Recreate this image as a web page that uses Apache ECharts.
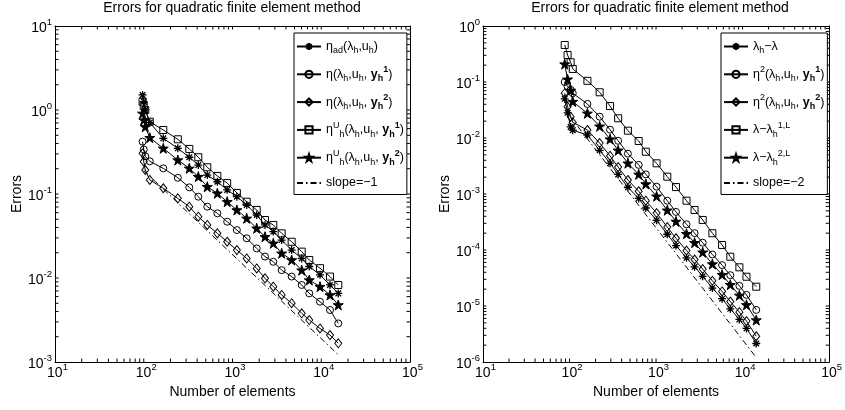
<!DOCTYPE html>
<html><head><meta charset="utf-8">
<script src="https://cdn.jsdelivr.net/npm/echarts@6/dist/echarts.min.js"></script>
<style>html,body{margin:0;padding:0;background:#fff}#c{width:845px;height:410px}</style>
</head><body><div id="c"></div>
<script>
// ---------- data ----------
const titleText = 'Errors for quadratic finite element method';
const xName = 'Number of elements';
const yName = 'Errors';

const xTickLabels = [10, 100, 1000, 10000, 100000];
const yTickLabelsLeft = [0.001, 0.01, 0.1, 1, 10];
const yTickLabelsRight = [0.000001, 0.00001, 0.0001, 0.001, 0.01, 0.1, 1];

// left panel
const xLeft = [97, 100, 104, 117, 166, 242, 326, 412, 520, 675, 871, 1120, 1445, 1875, 2323, 2883, 3580, 4640, 6025, 7330, 9680, 12550, 15550];
const leftEtaAd = [1.51, 1.26, 1.0, 0.708, 0.46, 0.35, 0.274, 0.221, 0.168, 0.14, 0.112, 0.0929, 0.074, 0.0562, 0.0428, 0.0357, 0.0283, 0.0215, 0.0171, 0.0137, 0.0109, 0.00826, 0.00656];
const leftEta1 = [0.42, 0.339, 0.282, 0.245, 0.202, 0.156, 0.12, 0.0929, 0.0706, 0.0589, 0.0468, 0.0372, 0.0297, 0.0225, 0.018, 0.0156, 0.0124, 0.0104, 0.00826, 0.00656, 0.00522, 0.00416, 0.00288];
const leftEta2 = [0.305, 0.243, 0.193, 0.147, 0.117, 0.0887, 0.0706, 0.0537, 0.0428, 0.034, 0.027, 0.0215, 0.0171, 0.013, 0.00991, 0.00789, 0.00628, 0.00501, 0.0038, 0.00316, 0.00251, 0.00209, 0.00167];
const leftEtaU1 = [1.256, 1.117, 1.0, 0.726, 0.578, 0.448, 0.344, 0.274, 0.208, 0.164, 0.135, 0.103, 0.0809, 0.0646, 0.049, 0.0428, 0.034, 0.027, 0.0206, 0.0164, 0.0131, 0.0104, 0.00826];
const leftEtaU2 = [0.912, 0.759, 0.631, 0.468, 0.35, 0.254, 0.202, 0.161, 0.122, 0.102, 0.0809, 0.0646, 0.0513, 0.0391, 0.031, 0.0259, 0.0197, 0.0164, 0.0124, 0.00946, 0.00789, 0.00628, 0.00478];
const leftSlopeX = [100, 15550];
const leftSlopeY = [0.19, 0.00122];

// right panel
const xRight = [88, 95, 103, 109, 161, 223, 294, 365, 473, 630, 762, 1015, 1349, 1700, 2250, 2790, 3460, 4480, 5800, 7220, 9190, 11100, 14400];
const rightLam = [0.0501, 0.0282, 0.0158, 0.0138, 0.0113, 0.00603, 0.00355, 0.00224, 0.00132, 0.000832, 0.000562, 0.000339, 0.000191, 0.00012, 7.24e-5, 5.01e-5, 3.39e-5, 2.09e-5, 1.35e-5, 8.91e-6, 5.75e-6, 3.98e-6, 2.14e-6];
const rightEta1 = [0.1, 0.0832, 0.0724, 0.0631, 0.0405, 0.024, 0.0141, 0.00891, 0.00525, 0.00331, 0.00224, 0.00135, 0.000759, 0.000479, 0.000288, 0.0002, 0.000135, 8.32e-5, 5.37e-5, 3.55e-5, 2.29e-5, 1.58e-5, 8.51e-6];
const rightEta2 = [0.0631, 0.0363, 0.024, 0.019, 0.0139, 0.00813, 0.00479, 0.00302, 0.00178, 0.00112, 0.000759, 0.000457, 0.000257, 0.000162, 9.77e-5, 6.76e-5, 4.57e-5, 2.82e-5, 1.82e-5, 1.2e-5, 7.76e-6, 5.37e-6, 2.88e-6];
const rightL1 = [0.458, 0.303, 0.225, 0.171, 0.105, 0.0655, 0.0372, 0.0225, 0.0135, 0.00883, 0.00569, 0.00353, 0.00204, 0.00133, 0.000759, 0.000518, 0.000344, 0.000199, 0.000123, 7.59e-5, 4.91e-5, 3.33e-5, 2.21e-5];
const rightL2 = [0.209, 0.112, 0.0708, 0.0447, 0.0276, 0.0162, 0.00955, 0.00603, 0.00355, 0.00224, 0.00151, 0.000912, 0.000513, 0.000324, 0.000195, 0.000135, 9.12e-5, 5.62e-5, 3.63e-5, 2.4e-5, 1.55e-5, 1.05e-5, 5.62e-6];
const rightSlopeX = [100, 14400];
const rightSlopeY = [0.025, 1.2e-6];

// ---------- chart ----------
const F = '"Liberation Sans", Arial, Helvetica, sans-serif';
const pairs = (xs, ys) => xs.map((x, i) => [x, ys[i]]);
function allTicks(majors) {
  const out = [];
  for (let i = 0; i < majors.length; i++) {
    out.push(majors[i]);
    if (i < majors.length - 1) for (let k = 2; k <= 9; k++) out.push(+(majors[i] * k).toPrecision(6));
  }
  return out;
}
const xTicksAll = allTicks(xTickLabels);
const yTicksAllL = allTicks(yTickLabelsLeft);
const yTicksAllR = allTicks(yTickLabelsRight);

const tickRich = {
  b: {fontSize: 14, fontFamily: F, color: '#000', lineHeight: 18, verticalAlign: 'bottom'},
  s: {fontSize: 9.5, fontFamily: F, color: '#000', lineHeight: 8, verticalAlign: 'top'}
};
const tickFmt = v => '{b|10}{s|' + Math.round(Math.log10(v)) + '}';

function xAx(grid, pos, labels, min, max) {
  return {
    type: 'log', logBase: 10, gridIndex: grid, position: pos, min: min, max: max,
    axisLine: {show: true, onZero: false, lineStyle: {color: '#000', width: 1}},
    axisTick: {show: false},
    axisLabel: {show: labels, customValues: xTickLabels, formatter: tickFmt, rich: tickRich, margin: 0, padding: [0, 0, 0, 5]},
    splitLine: {show: false},
    name: labels ? xName : '', nameLocation: 'middle', nameGap: 21,
    nameTextStyle: {fontSize: 14, fontFamily: F, color: '#000'}
  };
}
function yAx(grid, pos, labels, min, max, labelVals) {
  return {
    type: 'log', logBase: 10, gridIndex: grid, position: pos, min: min, max: max,
    axisLine: {show: true, onZero: false, lineStyle: {color: '#000', width: 1}},
    axisTick: {show: false},
    axisLabel: {show: labels, customValues: labelVals, formatter: tickFmt, rich: tickRich, margin: 3},
    splitLine: {show: false},
    name: labels ? yName : '', nameLocation: 'middle', nameGap: 31,
    nameTextStyle: {fontSize: 14, fontFamily: F, color: '#000'}
  };
}

// tick marks on all four sides (short segments, placed by the axes' log scales)
const TL = 3.5; // px
const EPS = 1.000001;
let tickId = 0;
function tickLine(ai, segs) {
  const data = [];
  segs.forEach(s => { data.push(s[0], s[1], [null, null]); });
  return {
    type: 'line', name: 'tick' + (tickId++), xAxisIndex: ai, yAxisIndex: ai, data: data, connectNulls: false,
    symbol: 'none', showSymbol: false, lineStyle: {color: '#000', width: 1},
    animation: false, z: 2, clip: false, legendHoverLink: false
  };
}
function gridTicks(ai, xTicks, yTicks, xMin, xMax, yMin, yMax, pxW, pxH) {
  const fx = Math.pow(xMax / xMin, TL / pxW);
  const fy = Math.pow(yMax / yMin, TL / pxH);
  const inX = xTicks.filter((v, i) => i > 0 && i < xTicks.length - 1);
  const inY = yTicks.filter((v, i) => i > 0 && i < yTicks.length - 1);
  return [
    tickLine(ai, inX.map(v => [[v, yMin * EPS], [v, yMin * fy]])),
    tickLine(ai, inX.map(v => [[v, yMax / EPS], [v, yMax / fy]])),
    tickLine(ai, inY.map(v => [[xMin * EPS, v], [xMin * fx, v]])),
    tickLine(ai, inY.map(v => [[xMax / EPS, v], [xMax / fx, v]]))
  ];
}

const SYM = {
  ast: 'path://M10,0L10,20M0,10L20,10M3,3L17,17M3,17L17,3',
  star: 'path://M10,0L12.35,7.24L19.98,7.24L13.82,11.71L16.18,18.96L10,14.49L3.82,18.96L6.18,11.71L0.02,7.24L7.65,7.24Z'
};
const CLEAR = 'rgba(0,0,0,0)';
function ser(name, xs, ys, ai, sym, size, fill, bw) {
  return {
    type: 'line', name: name, xAxisIndex: ai, yAxisIndex: ai, data: pairs(xs, ys),
    symbol: sym, symbolSize: size, showSymbol: true, showAllSymbol: true,
    lineStyle: {color: '#000', width: 1},
    itemStyle: {color: fill, borderColor: '#000', borderWidth: bw || 1},
    emphasis: {disabled: true}, animation: false, z: 3
  };
}
function slope(name, xs, ys, ai) {
  return {
    type: 'line', name: name, xAxisIndex: ai, yAxisIndex: ai, data: pairs(xs, ys),
    symbol: 'none', lineStyle: {color: '#000', width: 1, type: [6, 3, 1.5, 3]},
    itemStyle: {color: CLEAR, borderColor: CLEAR, borderWidth: 0},
    emphasis: {disabled: true}, animation: false, z: 2
  };
}

const names = {
  lAd: '{t|η}{sub|ad}{t|(λ}{sub|h}{t|,u}{sub|h}{t|)}',
  l1: '{t|η(λ}{sub|h}{t|,u}{sub|h}{t|, }{b|y}{bsub|h}{bsup|1}{t|)}',
  l2: '{t|η(λ}{sub|h}{t|,u}{sub|h}{t|, }{b|y}{bsub|h}{bsup|2}{t|)}',
  lU1: '{t|η}{sup|U}{sub|h}{t|(λ}{sub|h}{t|,u}{sub|h}{t|, }{b|y}{bsub|h}{bsup|1}{t|)}',
  lU2: '{t|η}{sup|U}{sub|h}{t|(λ}{sub|h}{t|,u}{sub|h}{t|, }{b|y}{bsub|h}{bsup|2}{t|)}',
  lS: '{t|slope=−1}',
  rLam: '{t|λ}{sub|h}{t|−λ}',
  r1: '{t|η}{sup|2}{t|(λ}{sub|h}{t|,u}{sub|h}{t|, }{b|y}{bsub|h}{bsup|1}{t|)}',
  r2: '{t|η}{sup|2}{t|(λ}{sub|h}{t|,u}{sub|h}{t|, }{b|y}{bsub|h}{bsup|2}{t|)}',
  rL1: '{t|λ−λ}{sub|h}{sup|1,L}',
  rL2: '{t|λ−λ}{sub|h}{sup|2,L}',
  rS: '{t|slope=−2}'
};
const legRich = {
  t: {fontSize: 12.5, fontFamily: F, color: '#000', lineHeight: 18},
  sub: {fontSize: 9, fontFamily: F, color: '#000', lineHeight: 9, verticalAlign: 'bottom'},
  sup: {fontSize: 9, fontFamily: F, color: '#000', lineHeight: 9, verticalAlign: 'top'},
  b: {fontSize: 12.5, fontFamily: F, color: '#000', lineHeight: 18, fontWeight: 'bold'},
  bsub: {fontSize: 9, fontFamily: F, color: '#000', lineHeight: 9, verticalAlign: 'bottom', fontWeight: 'bold'},
  bsup: {fontSize: 9, fontFamily: F, color: '#000', lineHeight: 9, verticalAlign: 'top', fontWeight: 'bold'}
};
function legend(left, top, data) {
  return {
    left: left, top: top, orient: 'vertical', data: data, selectedMode: false,
    backgroundColor: '#fff', borderColor: '#000', borderWidth: 1, borderRadius: 0,
    padding: [7, 3, 5, 2], itemGap: 9.8, itemWidth: 24, itemHeight: 9,
    formatter: n => names[n], textStyle: {rich: legRich, fontSize: 12.5, fontFamily: F, color: '#000'}
  };
}

const option = {
  backgroundColor: '#fff',
  animation: false,
  title: [
    {text: titleText, left: 232, top: 1, textAlign: 'center', padding: 0,
     textStyle: {fontSize: 14, fontWeight: 'normal', fontFamily: F, color: '#000'}},
    {text: titleText, left: 660, top: 1, textAlign: 'center', padding: 0,
     textStyle: {fontSize: 14, fontWeight: 'normal', fontFamily: F, color: '#000'}}
  ],
  grid: [
    {left: 55, right: 435, top: 26, bottom: 48, containLabel: false},
    {left: 483, right: 7, top: 26, bottom: 48, containLabel: false}
  ],
  xAxis: [
    xAx(0, 'bottom', true, 10, 100000),
    xAx(0, 'top', false, 10, 100000),
    xAx(1, 'bottom', true, 10, 100000),
    xAx(1, 'top', false, 10, 100000)
  ],
  yAxis: [
    yAx(0, 'left', true, 0.001, 10, yTickLabelsLeft),
    yAx(0, 'right', false, 0.001, 10, yTickLabelsLeft),
    yAx(1, 'left', true, 0.000001, 1, yTickLabelsRight),
    yAx(1, 'right', false, 0.000001, 1, yTickLabelsRight)
  ],
  legend: [
    legend(294, 33, ['lAd', 'l1', 'l2', 'lU1', 'lU2', 'lS']),
    legend(721, 33, ['rLam', 'r1', 'r2', 'rL1', 'rL2', 'rS'])
  ],
  series: [].concat(
    [
      ser('lAd', xLeft, leftEtaAd, 0, SYM.ast, 8, CLEAR, 1.3),
      ser('l1', xLeft, leftEta1, 0, 'circle', 7, CLEAR),
      ser('l2', xLeft, leftEta2, 0, 'diamond', [7, 9], CLEAR),
      ser('lU1', xLeft, leftEtaU1, 0, 'rect', 7, CLEAR),
      ser('lU2', xLeft, leftEtaU2, 0, SYM.star, 10, '#000'),
      slope('lS', leftSlopeX, leftSlopeY, 0),
      ser('rLam', xRight, rightLam, 2, SYM.ast, 8, CLEAR, 1.3),
      ser('r1', xRight, rightEta1, 2, 'circle', 7, CLEAR),
      ser('r2', xRight, rightEta2, 2, 'diamond', [7, 9], CLEAR),
      ser('rL1', xRight, rightL1, 2, 'rect', 7, CLEAR),
      ser('rL2', xRight, rightL2, 2, SYM.star, 10, '#000'),
      slope('rS', rightSlopeX, rightSlopeY, 2)
    ],
    gridTicks(0, xTicksAll, yTicksAllL, 10, 100000, 0.001, 10, 355, 336),
    gridTicks(2, xTicksAll, yTicksAllR, 10, 100000, 0.000001, 1, 355, 336)
  )
};
const chart = echarts.init(document.getElementById('c'));
chart.setOption(option);
</script></body></html>
